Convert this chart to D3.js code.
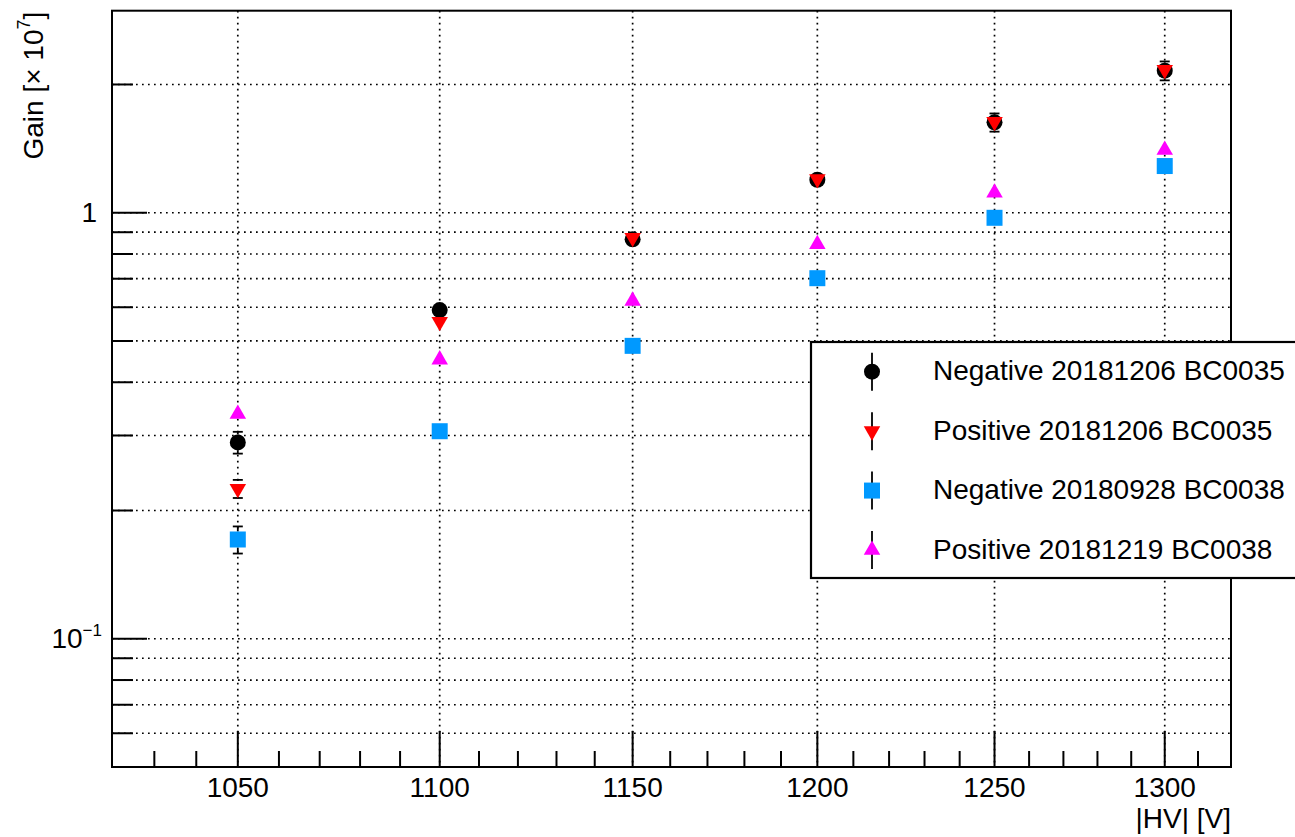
<!DOCTYPE html>
<html><head><meta charset="utf-8">
<script src="https://cdn.jsdelivr.net/npm/d3@7"></script>
<style>
html,body{margin:0;padding:0;background:#fff;}
svg{display:block;font-family:"Liberation Sans",Arial,Helvetica,sans-serif;}
</style></head>
<body>
<svg id="chart" width="1295" height="837"></svg>
<script>
const hvValues = [1050, 1100, 1150, 1200, 1250, 1300];
const seriesNames = ["Negative 20181206 BC0035", "Positive 20181206 BC0035", "Negative 20180928 BC0038", "Positive 20181219 BC0038"];
const seriesColors = ["#000000", "#ff0000", "#0099ff", "#ff00ff"];
const seriesShapes = ["circle", "triangleDown", "square", "triangleUp"];
const gainNeg35 = [0.289, 0.591, 0.866, 1.195, 1.630, 2.155];
const errNeg35  = [0.017, 0.015, 0.035, 0.05, 0.08, 0.11];
const gainPos35 = [0.225, 0.555, 0.874, 1.200, 1.636, 2.165];
const errPos35  = [0.011, 0.012, 0.02, 0.03, 0.05, 0.08];
const gainNeg38 = [0.171, 0.307, 0.487, 0.702, 0.973, 1.287];
const errNeg38  = [0.0125, 0.008, 0.01, 0.012, 0.015, 0.02];
const gainPos38 = [0.337, 0.452, 0.621, 0.843, 1.114, 1.403];
const errPos38  = [0.006, 0.008, 0.01, 0.012, 0.015, 0.02];
const seriesGains = [gainNeg35, gainPos35, gainNeg38, gainPos38];
const seriesErrs = [errNeg35, errPos35, errNeg38, errPos38];

const xMajorTicks = [1050, 1100, 1150, 1200, 1250, 1300];
const xMinorTicks = [1030, 1040, 1060, 1070, 1080, 1090, 1110, 1120, 1130, 1140, 1160, 1170, 1180, 1190, 1210, 1220, 1230, 1240, 1260, 1270, 1280, 1290, 1310];
const yMajorTicks = [0.1, 1];
const yMinorTicks = [0.06, 0.07, 0.08, 0.09, 0.2, 0.3, 0.4, 0.5, 0.6, 0.7, 0.8, 0.9, 2];
const xDomain = [1020, 1320];
const yDomain = [0.05, 2.98];

const svg = d3.select("#chart");
const L = 112, R = 1231, T = 10.7, B = 767;
const x = d3.scaleLog().domain(xDomain).range([L, R]);
const y = d3.scaleLog().domain(yDomain).range([B, T]);

// grid
const grid = svg.append("g").attr("stroke", "#000").attr("stroke-width", 1.7).attr("stroke-dasharray", "1.7 4.3");
grid.selectAll("line.h").data(yMajorTicks.concat(yMinorTicks)).join("line")
  .attr("x1", L).attr("x2", R).attr("y1", d => y(d)).attr("y2", d => y(d));
grid.selectAll("line.v").data(xMajorTicks).join("line")
  .attr("y1", T).attr("y2", B).attr("x1", d => x(d)).attr("x2", d => x(d));

// ticks
const tk = svg.append("g").attr("stroke", "#000").attr("stroke-width", 2);
tk.selectAll("line.xM").data(xMajorTicks).join("line")
  .attr("x1", d => x(d)).attr("x2", d => x(d)).attr("y1", B).attr("y2", B - 36);
tk.selectAll("line.xm").data(xMinorTicks).join("line")
  .attr("x1", d => x(d)).attr("x2", d => x(d)).attr("y1", B).attr("y2", B - 16);
tk.selectAll("line.yM").data(yMajorTicks).join("line")
  .attr("x1", L).attr("x2", L + 35).attr("y1", d => y(d)).attr("y2", d => y(d));
tk.selectAll("line.ym").data(yMinorTicks).join("line")
  .attr("x1", L).attr("x2", L + 21).attr("y1", d => y(d)).attr("y2", d => y(d));

// frame
svg.append("rect").attr("x", L).attr("y", T).attr("width", R - L).attr("height", B - T)
  .attr("fill", "none").attr("stroke", "#000").attr("stroke-width", 2);

// tick labels
svg.append("g").selectAll("text").data(xMajorTicks).join("text")
  .attr("x", d => x(d)).attr("y", 797).attr("text-anchor", "middle")
  .attr("font-size", 28).text(d => d);
const yl = svg.append("g");
yMajorTicks.forEach(v => {
  const e = Math.round(Math.log10(v));
  const t = yl.append("text").attr("font-size", 28).attr("text-anchor", "end").attr("y", y(v) + 9.5);
  if (e === 0) {
    t.attr("x", 97).text("1");
  } else {
    t.attr("x", 102);
    t.append("tspan").text("10");
    t.append("tspan").attr("font-size", 17).attr("dy", -12).text("\u2212" + Math.abs(e));
  }
});

// axis titles
svg.append("text").attr("x", R).attr("y", 828).attr("text-anchor", "end").attr("font-size", 28).text("|HV| [V]");
const yt = svg.append("text").attr("transform", "translate(43,11.7) rotate(-90)").attr("text-anchor", "end").attr("font-size", 28);
yt.append("tspan").text("Gain [\u00d7 10");
yt.append("tspan").attr("font-size", 18).attr("dy", -13).text("7");
yt.append("tspan").attr("dy", 13).text("]");

// markers
function symPath(shape) {
  if (shape === "circle") return d3.symbol(d3.symbolCircle, Math.PI * 64)();
  if (shape === "square") return d3.symbol(d3.symbolSquare, 256)();
  return d3.symbol(d3.symbolTriangle, Math.sqrt(3) / 4 * 16.5 * 16.5)();
}
function drawMarker(g, shape, color, cx, cy) {
  const p = g.append("path").attr("d", symPath(shape)).attr("fill", color);
  if (shape === "triangleDown") p.attr("transform", `translate(${cx},${cy}) rotate(180)`);
  else p.attr("transform", `translate(${cx},${cy})`);
}
const rad = 8, cap = 5;
seriesGains.forEach((gains, si) => {
  const g = svg.append("g");
  gains.forEach((v, i) => {
    const cx = x(hvValues[i]), cy = y(v);
    const yTop = y(v + seriesErrs[si][i]), yBot = y(v - seriesErrs[si][i]);
    const eb = g.append("g").attr("stroke", "#000").attr("stroke-width", 1.8);
    if (cy - yTop > rad) {
      eb.append("line").attr("x1", cx).attr("x2", cx).attr("y1", cy - rad).attr("y2", yTop);
      eb.append("line").attr("x1", cx - cap).attr("x2", cx + cap).attr("y1", yTop).attr("y2", yTop);
    }
    if (yBot - cy > rad) {
      eb.append("line").attr("x1", cx).attr("x2", cx).attr("y1", cy + rad).attr("y2", yBot);
      eb.append("line").attr("x1", cx - cap).attr("x2", cx + cap).attr("y1", yBot).attr("y2", yBot);
    }
    drawMarker(g, seriesShapes[si], seriesColors[si], cx, cy);
  });
});

// legend
const lg = svg.append("g");
lg.append("rect").attr("x", 811).attr("y", 342).attr("width", 500).attr("height", 236)
  .attr("fill", "#fff").attr("stroke", "#000").attr("stroke-width", 2.2);
const rowY = d3.scalePoint().domain(d3.range(seriesNames.length)).range([371.7, 550]);
seriesNames.forEach((name, i) => {
  const cy = rowY(i), cx = 872;
  lg.append("line").attr("x1", cx).attr("x2", cx).attr("y1", cy - 19).attr("y2", cy + 19)
    .attr("stroke", "#000").attr("stroke-width", 1.8);
  drawMarker(lg, seriesShapes[i], seriesColors[i], cx, cy);
  lg.append("text").attr("x", 933).attr("y", cy + 8.5).attr("font-size", 28).text(name);
});
</script>
</body></html>
